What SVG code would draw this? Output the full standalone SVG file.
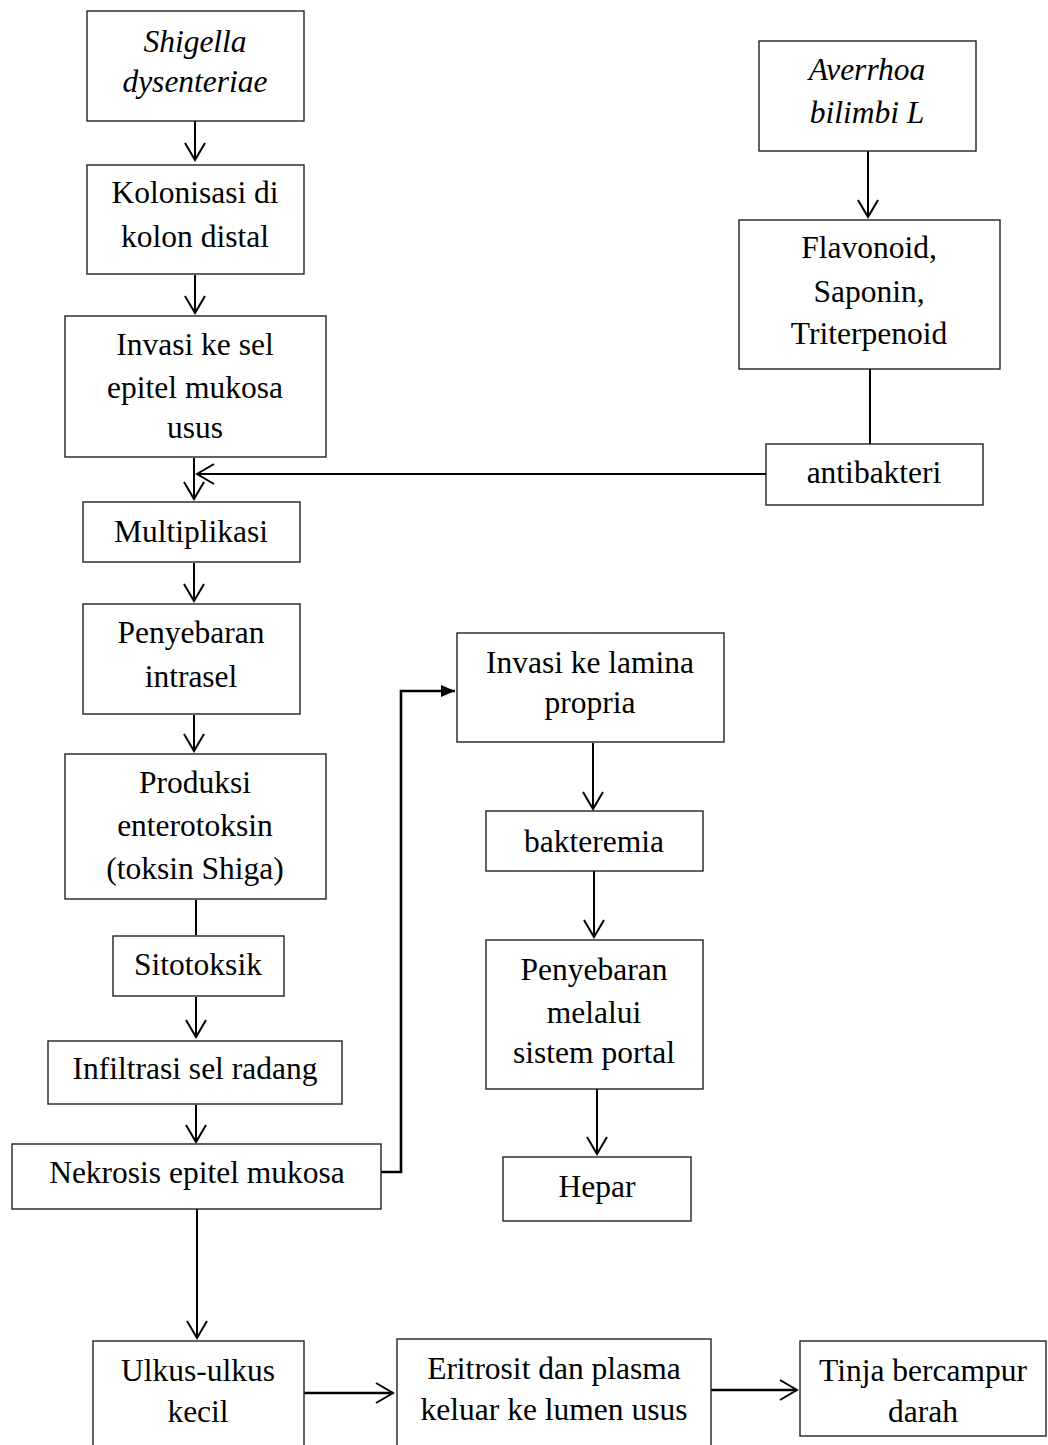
<svg xmlns="http://www.w3.org/2000/svg" width="1048" height="1445" viewBox="0 0 1048 1445">
<style>
.box{fill:#fff;stroke:#222;stroke-width:1.4}
.t{font-family:"Liberation Serif","Times New Roman",serif;font-size:31.5px;fill:#000;text-anchor:middle}
.i{font-style:italic}
.c{fill:none;stroke:#000;stroke-width:2}
.k{stroke-width:2.6}
</style>
<defs>
<marker id="open" markerUnits="userSpaceOnUse" markerWidth="30" markerHeight="30" viewBox="-20 -15 30 30" refX="0" refY="0" orient="auto" overflow="visible">
<path d="M-17,-10 L0,0 L-17,10" fill="none" stroke="#000" stroke-width="2"/>
</marker>
<marker id="solid" markerUnits="userSpaceOnUse" markerWidth="20" markerHeight="20" viewBox="-16 -8 20 16" refX="0" refY="0" orient="auto" overflow="visible">
<path d="M-14,-6 L0,0 L-14,6 Z" fill="#000"/>
</marker>
</defs>
<rect width="1048" height="1445" fill="#fff"/>

<g id="connectors">
<line class="c" x1="195" y1="121" x2="195" y2="160" marker-end="url(#open)"/>
<line class="c" x1="195" y1="275" x2="195" y2="313" marker-end="url(#open)"/>
<line class="c" x1="194" y1="458" x2="194" y2="499" marker-end="url(#open)"/>
<line class="c" x1="194" y1="563" x2="194" y2="601" marker-end="url(#open)"/>
<line class="c" x1="194" y1="715" x2="194" y2="751" marker-end="url(#open)"/>
<line class="c" x1="196" y1="900" x2="196" y2="935"/>
<line class="c" x1="196" y1="997" x2="196" y2="1037" marker-end="url(#open)"/>
<line class="c" x1="196" y1="1105" x2="196" y2="1142" marker-end="url(#open)"/>
<line class="c" x1="197" y1="1209" x2="197" y2="1338" marker-end="url(#open)"/>
<line class="c k" x1="304" y1="1393" x2="393" y2="1393" marker-end="url(#open)"/>
<line class="c k" x1="711" y1="1390" x2="797" y2="1390" marker-end="url(#open)"/>
<polyline class="c k" points="381,1172 401,1172 401,691 455,691" marker-end="url(#solid)"/>
<line class="c" x1="593" y1="743" x2="593" y2="809" marker-end="url(#open)"/>
<line class="c" x1="594" y1="871" x2="594" y2="937" marker-end="url(#open)"/>
<line class="c" x1="597" y1="1089" x2="597" y2="1154" marker-end="url(#open)"/>
<line class="c" x1="868" y1="151" x2="868" y2="217" marker-end="url(#open)"/>
<line class="c" x1="870" y1="369" x2="870" y2="444"/>
<line class="c" x1="766" y1="474" x2="197" y2="474" marker-end="url(#open)"/>
</g>

<g id="shigella">
<rect class="box" x="87" y="11" width="217" height="110"/>
<text class="t i" x="195" y="52">Shigella</text>
<text class="t i" x="195" y="92">dysenteriae</text>
</g>
<g id="kolonisasi">
<rect class="box" x="87" y="165" width="217" height="109"/>
<text class="t" x="195" y="203">Kolonisasi di</text>
<text class="t" x="195" y="247">kolon distal</text>
</g>
<g id="invasi-sel">
<rect class="box" x="65" y="316" width="261" height="141"/>
<text class="t" x="195" y="355">Invasi ke sel</text>
<text class="t" x="195" y="398">epitel mukosa</text>
<text class="t" x="195" y="438">usus</text>
</g>
<g id="multiplikasi">
<rect class="box" x="83" y="502" width="217" height="60"/>
<text class="t" x="191" y="542">Multiplikasi</text>
</g>
<g id="penyebaran-intrasel">
<rect class="box" x="83" y="604" width="217" height="110"/>
<text class="t" x="191" y="643">Penyebaran</text>
<text class="t" x="191" y="687">intrasel</text>
</g>
<g id="produksi">
<rect class="box" x="65" y="754" width="261" height="145"/>
<text class="t" x="195" y="793">Produksi</text>
<text class="t" x="195" y="836">enterotoksin</text>
<text class="t" x="195" y="879">(toksin Shiga)</text>
</g>
<g id="sitotoksik">
<rect class="box" x="113" y="936" width="171" height="60"/>
<text class="t" x="198" y="975">Sitotoksik</text>
</g>
<g id="infiltrasi">
<rect class="box" x="48" y="1041" width="294" height="63"/>
<text class="t" x="195" y="1079">Infiltrasi sel radang</text>
</g>
<g id="nekrosis">
<rect class="box" x="12" y="1144" width="369" height="65"/>
<text class="t" x="197" y="1183">Nekrosis epitel mukosa</text>
</g>
<g id="ulkus">
<rect class="box" x="93" y="1341" width="211" height="130"/>
<text class="t" x="198" y="1381">Ulkus-ulkus</text>
<text class="t" x="198" y="1422">kecil</text>
</g>
<g id="eritrosit">
<rect class="box" x="397" y="1339" width="314" height="130"/>
<text class="t" x="554" y="1379">Eritrosit dan plasma</text>
<text class="t" x="554" y="1420">keluar ke lumen usus</text>
</g>
<g id="tinja">
<rect class="box" x="800" y="1341" width="246" height="95"/>
<text class="t" x="923" y="1381">Tinja bercampur</text>
<text class="t" x="923" y="1422">darah</text>
</g>
<g id="averrhoa">
<rect class="box" x="759" y="41" width="217" height="110"/>
<text class="t i" x="867" y="80">Averrhoa</text>
<text class="t i" x="867" y="123">bilimbi L</text>
</g>
<g id="flavonoid">
<rect class="box" x="739" y="220" width="261" height="149"/>
<text class="t" x="869" y="258">Flavonoid,</text>
<text class="t" x="869" y="302">Saponin,</text>
<text class="t" x="869" y="344">Triterpenoid</text>
</g>
<g id="antibakteri">
<rect class="box" x="766" y="444" width="217" height="61"/>
<text class="t" x="874" y="483">antibakteri</text>
</g>
<g id="invasi-lamina">
<rect class="box" x="457" y="633" width="267" height="109"/>
<text class="t" x="590" y="673">Invasi ke lamina</text>
<text class="t" x="590" y="713">propria</text>
</g>
<g id="bakteremia">
<rect class="box" x="486" y="811" width="217" height="60"/>
<text class="t" x="594" y="852">bakteremia</text>
</g>
<g id="penyebaran-portal">
<rect class="box" x="486" y="940" width="217" height="149"/>
<text class="t" x="594" y="980">Penyebaran</text>
<text class="t" x="594" y="1023">melalui</text>
<text class="t" x="594" y="1063">sistem portal</text>
</g>
<g id="hepar">
<rect class="box" x="503" y="1157" width="188" height="64"/>
<text class="t" x="597" y="1197">Hepar</text>
</g>
</svg>
